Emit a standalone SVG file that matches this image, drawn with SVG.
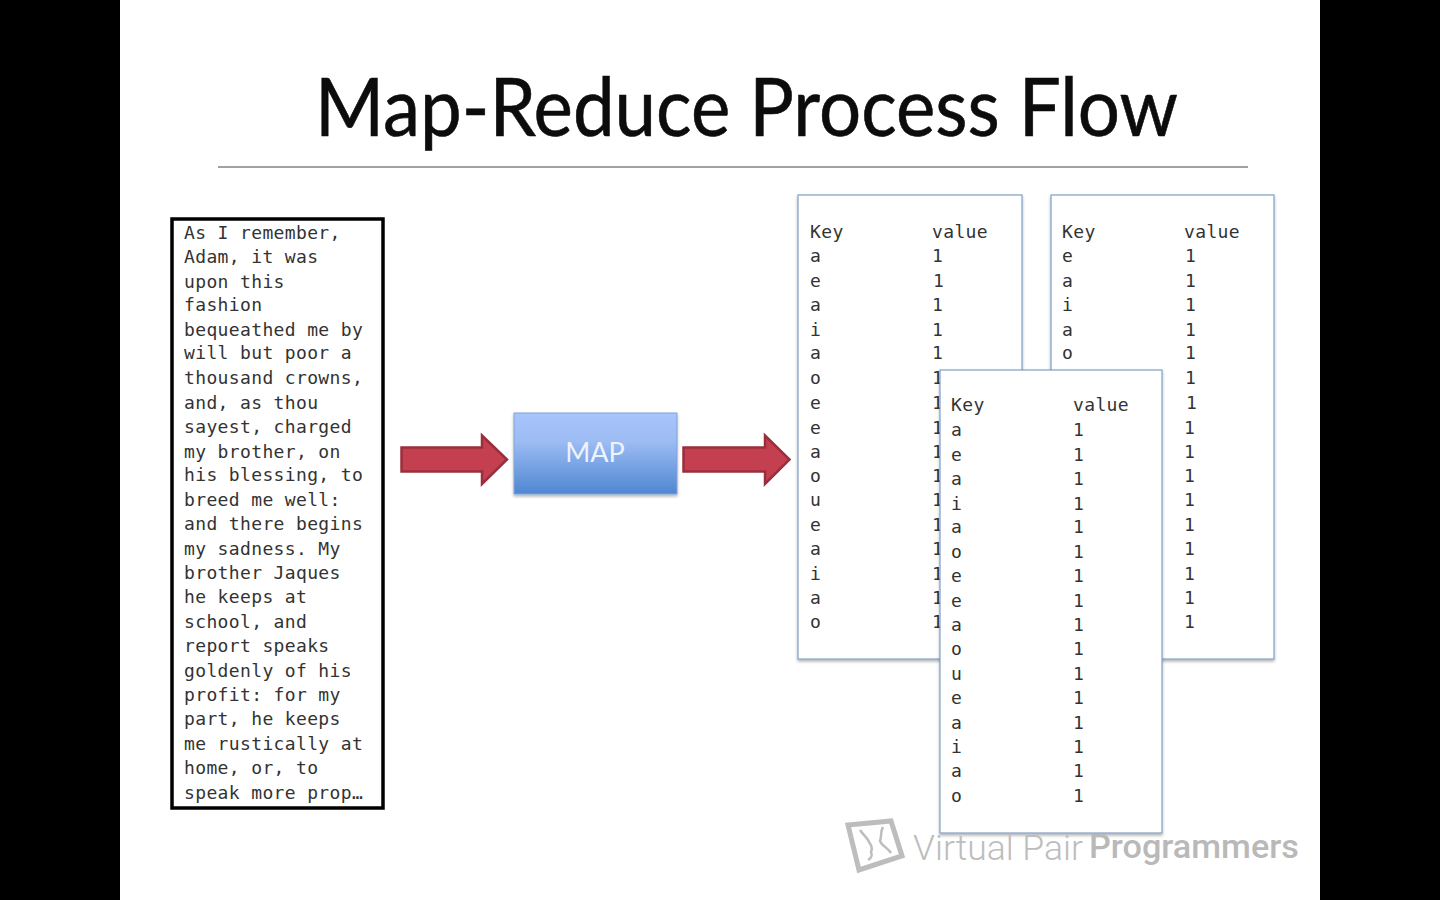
<svg xmlns="http://www.w3.org/2000/svg" width="1440" height="900" viewBox="0 0 1440 900">
<style>
.m{font-family:"DejaVu Sans Mono","Liberation Mono",monospace;font-size:18px;letter-spacing:.36px;fill:#333}
.card{fill:#fff;stroke:#7f9fc6;stroke-width:1.2;filter:url(#sh)}
.arrow{fill:#c43f50;stroke:#9a2f3c;stroke-width:2.500}
</style>
<defs>
<linearGradient id="g" x1="0" y1="0" x2="0" y2="1"><stop offset="0" stop-color="#a8c5fc"/><stop offset=".35" stop-color="#9cbcf3"/><stop offset="1" stop-color="#4f87d2"/></linearGradient>
<filter id="sh" x="-5%" y="-5%" width="110%" height="110%"><feDropShadow dx="0" dy="2" stdDeviation="1.5" flood-color="#000" flood-opacity=".3"/></filter>
</defs>
<rect width="1440" height="900" fill="#000"/>
<rect x="120" width="1200" height="900" fill="#fff"/>
<g id="title">
<text x="315" y="136" font-family="Lato,'Open Sans',sans-serif" font-size="82" textLength="863" lengthAdjust="spacingAndGlyphs" fill="#0c0c0c" stroke="#0c0c0c" stroke-width=".6">Map-Reduce Process Flow</text>
<line x1="218" y1="167" x2="1248" y2="167" stroke="#444" stroke-width="1"/>
</g>
<g id="source-text">
<rect x="172" y="219" width="211" height="589" fill="#fff" stroke="#000" stroke-width="3.5"/>
<text class="m" x="184" y="239">As I remember,</text>
<text class="m" x="184" y="263">Adam, it was</text>
<text class="m" x="184" y="288">upon this</text>
<text class="m" x="184" y="311">fashion</text>
<text class="m" x="184" y="336">bequeathed me by</text>
<text class="m" x="184" y="359">will but poor a</text>
<text class="m" x="184" y="384">thousand crowns,</text>
<text class="m" x="184" y="409">and, as thou</text>
<text class="m" x="184" y="433">sayest, charged</text>
<text class="m" x="184" y="458">my brother, on</text>
<text class="m" x="184" y="481">his blessing, to</text>
<text class="m" x="184" y="506">breed me well:</text>
<text class="m" x="184" y="530">and there begins</text>
<text class="m" x="184" y="555">my sadness. My</text>
<text class="m" x="184" y="579">brother Jaques</text>
<text class="m" x="184" y="603">he keeps at</text>
<text class="m" x="184" y="628">school, and</text>
<text class="m" x="184" y="652">report speaks</text>
<text class="m" x="184" y="677">goldenly of his</text>
<text class="m" x="184" y="701">profit: for my</text>
<text class="m" x="184" y="725">part, he keeps</text>
<text class="m" x="184" y="750">me rustically at</text>
<text class="m" x="184" y="774">home, or, to</text>
<text class="m" x="184" y="799">speak more prop…</text>
</g>
<g id="connectors">
<path class="arrow" d="M401.500 447.500H482V435.500L507 459.500L482 484V471.500H401.500Z"/>
<path class="arrow" d="M683.500 447.500H765V435.500L789.500 459.500L765 484V471.500H683.500Z"/>
</g>
<g id="map">
<rect x="514" y="413" width="163" height="81" fill="url(#g)" stroke="#7ea3d6" filter="url(#sh)"/>
<text x="595" y="462" text-anchor="middle" font-family="Lato,'Open Sans',sans-serif" font-size="27" fill="#eef3fb">MAP</text>
</g>
<g id="card-1">
<rect class="card" x="798" y="195" width="224" height="464"/>
<text class="m" x="810" y="238">Key</text><text class="m" x="932" y="238">value</text>
<text class="m" x="810" y="262">a</text><text class="m" x="932" y="262">1</text>
<text class="m" x="810" y="287">e</text><text class="m" x="933" y="287">1</text>
<text class="m" x="810" y="311">a</text><text class="m" x="932" y="311">1</text>
<text class="m" x="810" y="336">i</text><text class="m" x="932" y="336">1</text>
<text class="m" x="810" y="359">a</text><text class="m" x="932" y="359">1</text>
<text class="m" x="810" y="384">o</text><text class="m" x="932" y="384">1</text>
<text class="m" x="810" y="409">e</text><text class="m" x="932" y="409">1</text>
<text class="m" x="810" y="434">e</text><text class="m" x="932" y="434">1</text>
<text class="m" x="810" y="458">a</text><text class="m" x="932" y="458">1</text>
<text class="m" x="810" y="482">o</text><text class="m" x="932" y="482">1</text>
<text class="m" x="810" y="506">u</text><text class="m" x="932" y="506">1</text>
<text class="m" x="810" y="531">e</text><text class="m" x="932" y="531">1</text>
<text class="m" x="810" y="555">a</text><text class="m" x="932" y="555">1</text>
<text class="m" x="810" y="580">i</text><text class="m" x="932" y="580">1</text>
<text class="m" x="810" y="604">a</text><text class="m" x="932" y="604">1</text>
<text class="m" x="810" y="628">o</text><text class="m" x="932" y="628">1</text>
</g>
<g id="card-2">
<rect class="card" x="1051" y="195" width="223" height="464"/>
<text class="m" x="1062" y="238">Key</text><text class="m" x="1184" y="238">value</text>
<text class="m" x="1062" y="262">e</text><text class="m" x="1185" y="262">1</text>
<text class="m" x="1062" y="287">a</text><text class="m" x="1185" y="287">1</text>
<text class="m" x="1062" y="311">i</text><text class="m" x="1185" y="311">1</text>
<text class="m" x="1062" y="336">a</text><text class="m" x="1185" y="336">1</text>
<text class="m" x="1062" y="359">o</text><text class="m" x="1185" y="359">1</text>
<text class="m" x="1185" y="384">1</text>
<text class="m" x="1186" y="409">1</text>
<text class="m" x="1184" y="434">1</text>
<text class="m" x="1184" y="458">1</text>
<text class="m" x="1184" y="482">1</text>
<text class="m" x="1184" y="506">1</text>
<text class="m" x="1184" y="531">1</text>
<text class="m" x="1184" y="555">1</text>
<text class="m" x="1184" y="580">1</text>
<text class="m" x="1184" y="604">1</text>
<text class="m" x="1184" y="628">1</text>
</g>
<g id="card-3">
<rect class="card" x="940" y="370" width="222" height="463"/>
<text class="m" x="951" y="411">Key</text><text class="m" x="1073" y="411">value</text>
<text class="m" x="951" y="436">a</text><text class="m" x="1073" y="436">1</text>
<text class="m" x="951" y="461">e</text><text class="m" x="1073" y="461">1</text>
<text class="m" x="951" y="485">a</text><text class="m" x="1073" y="485">1</text>
<text class="m" x="951" y="510">i</text><text class="m" x="1073" y="510">1</text>
<text class="m" x="951" y="533">a</text><text class="m" x="1073" y="533">1</text>
<text class="m" x="951" y="558">o</text><text class="m" x="1073" y="558">1</text>
<text class="m" x="951" y="582">e</text><text class="m" x="1073" y="582">1</text>
<text class="m" x="951" y="607">e</text><text class="m" x="1073" y="607">1</text>
<text class="m" x="951" y="631">a</text><text class="m" x="1073" y="631">1</text>
<text class="m" x="951" y="655">o</text><text class="m" x="1073" y="655">1</text>
<text class="m" x="951" y="680">u</text><text class="m" x="1073" y="680">1</text>
<text class="m" x="951" y="704">e</text><text class="m" x="1073" y="704">1</text>
<text class="m" x="951" y="729">a</text><text class="m" x="1073" y="729">1</text>
<text class="m" x="951" y="753">i</text><text class="m" x="1073" y="753">1</text>
<text class="m" x="951" y="777">a</text><text class="m" x="1073" y="777">1</text>
<text class="m" x="951" y="802">o</text><text class="m" x="1073" y="802">1</text>
</g>
<g id="watermark">
<path d="M848 825L891 821L902 856L859 870Z" fill="#fff" stroke="#bdbdbd" stroke-width="5"/>
<path d="M860 830C864 836 868 838 869 842C873 847 872 850 871 852C873 856 870 859 868 860M883 827C880 832 882 836 880 841C882 846 888 848 891 853" fill="none" stroke="#bdbdbd" stroke-width="2.500"/>
<text x="913" y="860" font-family="Roboto,sans-serif" font-size="35" font-weight="300" fill="#bdbdbd" textLength="170" lengthAdjust="spacingAndGlyphs">Virtual Pair</text>
<text x="1089" y="858" font-family="Roboto,sans-serif" font-size="33" font-weight="500" fill="#b9b9b9" textLength="210" lengthAdjust="spacingAndGlyphs">Programmers</text>
</g>
</svg>
